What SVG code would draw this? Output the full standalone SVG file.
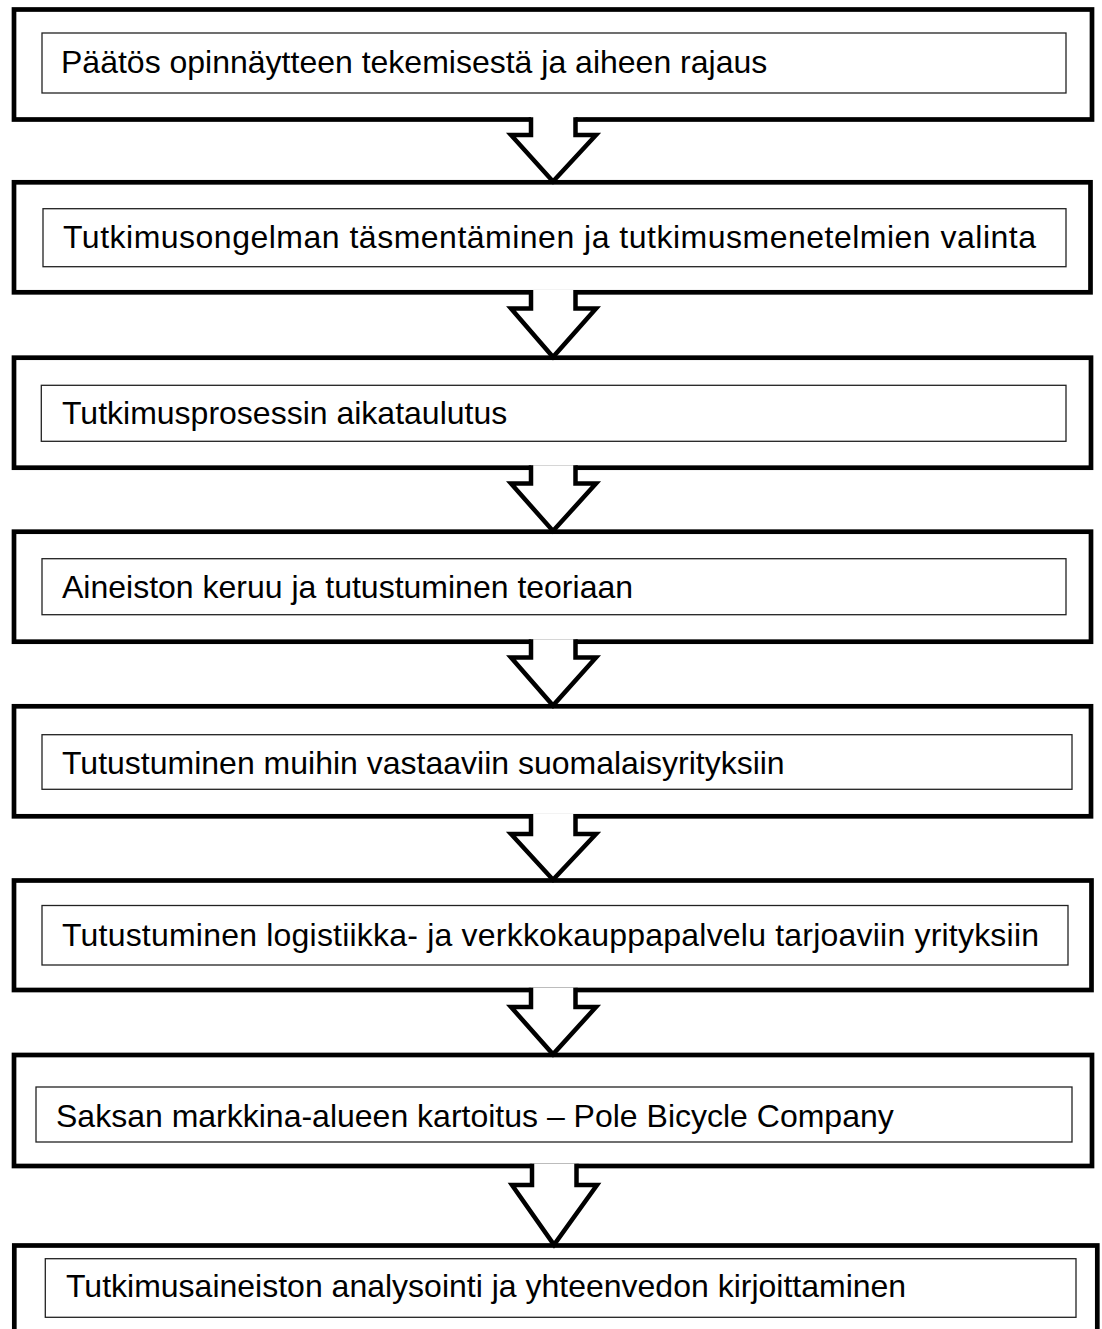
<svg xmlns="http://www.w3.org/2000/svg" width="1102" height="1329" viewBox="0 0 1102 1329">
<style>
.outer{fill:#fff;stroke:#000;stroke-width:4.7}
.inner{fill:#fff;stroke:#222;stroke-width:1.3}
.lbl{font-family:"Liberation Sans",Arial,sans-serif;font-size:32px;fill:#000}
.afill{fill:#fff;stroke:none}
.aline{fill:none;stroke:#000;stroke-width:4.5;stroke-linejoin:miter}
</style>
<rect width="1102" height="1329" fill="#fff"/>
<g id="node1"><rect class="outer" x="14" y="9.5" width="1078" height="110"/><rect class="inner" x="42" y="33" width="1024" height="60"/><text class="lbl" x="61" y="73.3">Päätös opinnäytteen tekemisestä ja aiheen rajaus</text></g>
<g id="node2"><rect class="outer" x="14" y="182.3" width="1076.5" height="110"/><rect class="inner" x="43" y="208.7" width="1023" height="58"/><text class="lbl" x="63" y="248" textLength="973" lengthAdjust="spacing">Tutkimusongelman täsmentäminen ja tutkimusmenetelmien valinta</text></g>
<g id="node3"><rect class="outer" x="14" y="357.7" width="1077" height="110"/><rect class="inner" x="41.3" y="385.3" width="1024.7" height="56"/><text class="lbl" x="62" y="424">Tutkimusprosessin aikataulutus</text></g>
<g id="node4"><rect class="outer" x="14" y="531.7" width="1077" height="110"/><rect class="inner" x="42" y="558.7" width="1024" height="56"/><text class="lbl" x="62" y="598">Aineiston keruu ja tutustuminen teoriaan</text></g>
<g id="node5"><rect class="outer" x="14" y="706.3" width="1077" height="110"/><rect class="inner" x="42" y="734.7" width="1030" height="54.6"/><text class="lbl" x="62" y="774">Tutustuminen muihin vastaaviin suomalaisyrityksiin</text></g>
<g id="node6"><rect class="outer" x="14" y="880.5" width="1077.5" height="109.5"/><rect class="inner" x="42" y="905.5" width="1026" height="59.5"/><text class="lbl" x="62" y="945.5" textLength="977" lengthAdjust="spacing">Tutustuminen logistiikka- ja verkkokauppapalvelu tarjoaviin yrityksiin</text></g>
<g id="node7"><rect class="outer" x="14" y="1055" width="1078" height="111"/><rect class="inner" x="36" y="1087" width="1036" height="55"/><text class="lbl" x="56" y="1127">Saksan markkina-alueen kartoitus – Pole Bicycle Company</text></g>
<g id="node8"><rect class="outer" x="14.3" y="1245.5" width="1083" height="120"/><rect class="inner" x="45.3" y="1258.7" width="1030.7" height="58.6"/><text class="lbl" x="66" y="1296.7">Tutkimusaineiston analysointi ja yhteenvedon kirjoittaminen</text></g>
<g id="connectors">
<g id="a1"><polygon class="afill" points="531,117 531,135 511,135 553,182 596,135 575.5,135 575.5,117"/><polyline class="aline" points="531,117.2 531,135 511,135 553,181.5 596,135 575.5,135 575.5,117.2"/></g>
<g id="a2"><polygon class="afill" points="531,290 531,308.5 511,308.5 553,357.7 596,308.5 575.5,308.5 575.5,290"/><polyline class="aline" points="531,290 531,308.5 511,308.5 553,357 596,308.5 575.5,308.5 575.5,290"/></g>
<g id="a3"><polygon class="afill" points="531,465.3 531,483.5 511,483.5 553,531.7 596,483.5 575.5,483.5 575.5,465.3"/><polyline class="aline" points="531,465.3 531,483.5 511,483.5 553,531 596,483.5 575.5,483.5 575.5,465.3"/></g>
<g id="a4"><polygon class="afill" points="531,639.3 531,657.5 511,657.5 553,706.3 596,657.5 575.5,657.5 575.5,639.3"/><polyline class="aline" points="531,639.3 531,657.5 511,657.5 553,705.6 596,657.5 575.5,657.5 575.5,639.3"/></g>
<g id="a5"><polygon class="afill" points="531,814 531,834 511,834 553,880.5 596,834 575.5,834 575.5,814"/><polyline class="aline" points="531,814 531,834 511,834 553,879.8 596,834 575.5,834 575.5,814"/></g>
<g id="a6"><polygon class="afill" points="531,987.7 531,1007 511,1007 553,1055 596,1007 575.5,1007 575.5,987.7"/><polyline class="aline" points="531,987.7 531,1007 511,1007 553,1054.3 596,1007 575.5,1007 575.5,987.7"/></g>
<g id="a7"><polygon class="afill" points="532,1163.7 532,1185 512,1185 554,1245.5 597,1185 576.5,1185 576.5,1163.7"/><polyline class="aline" points="532,1163.7 532,1185 512,1185 554,1244.8 597,1185 576.5,1185 576.5,1163.7"/></g>
</g>
</svg>
